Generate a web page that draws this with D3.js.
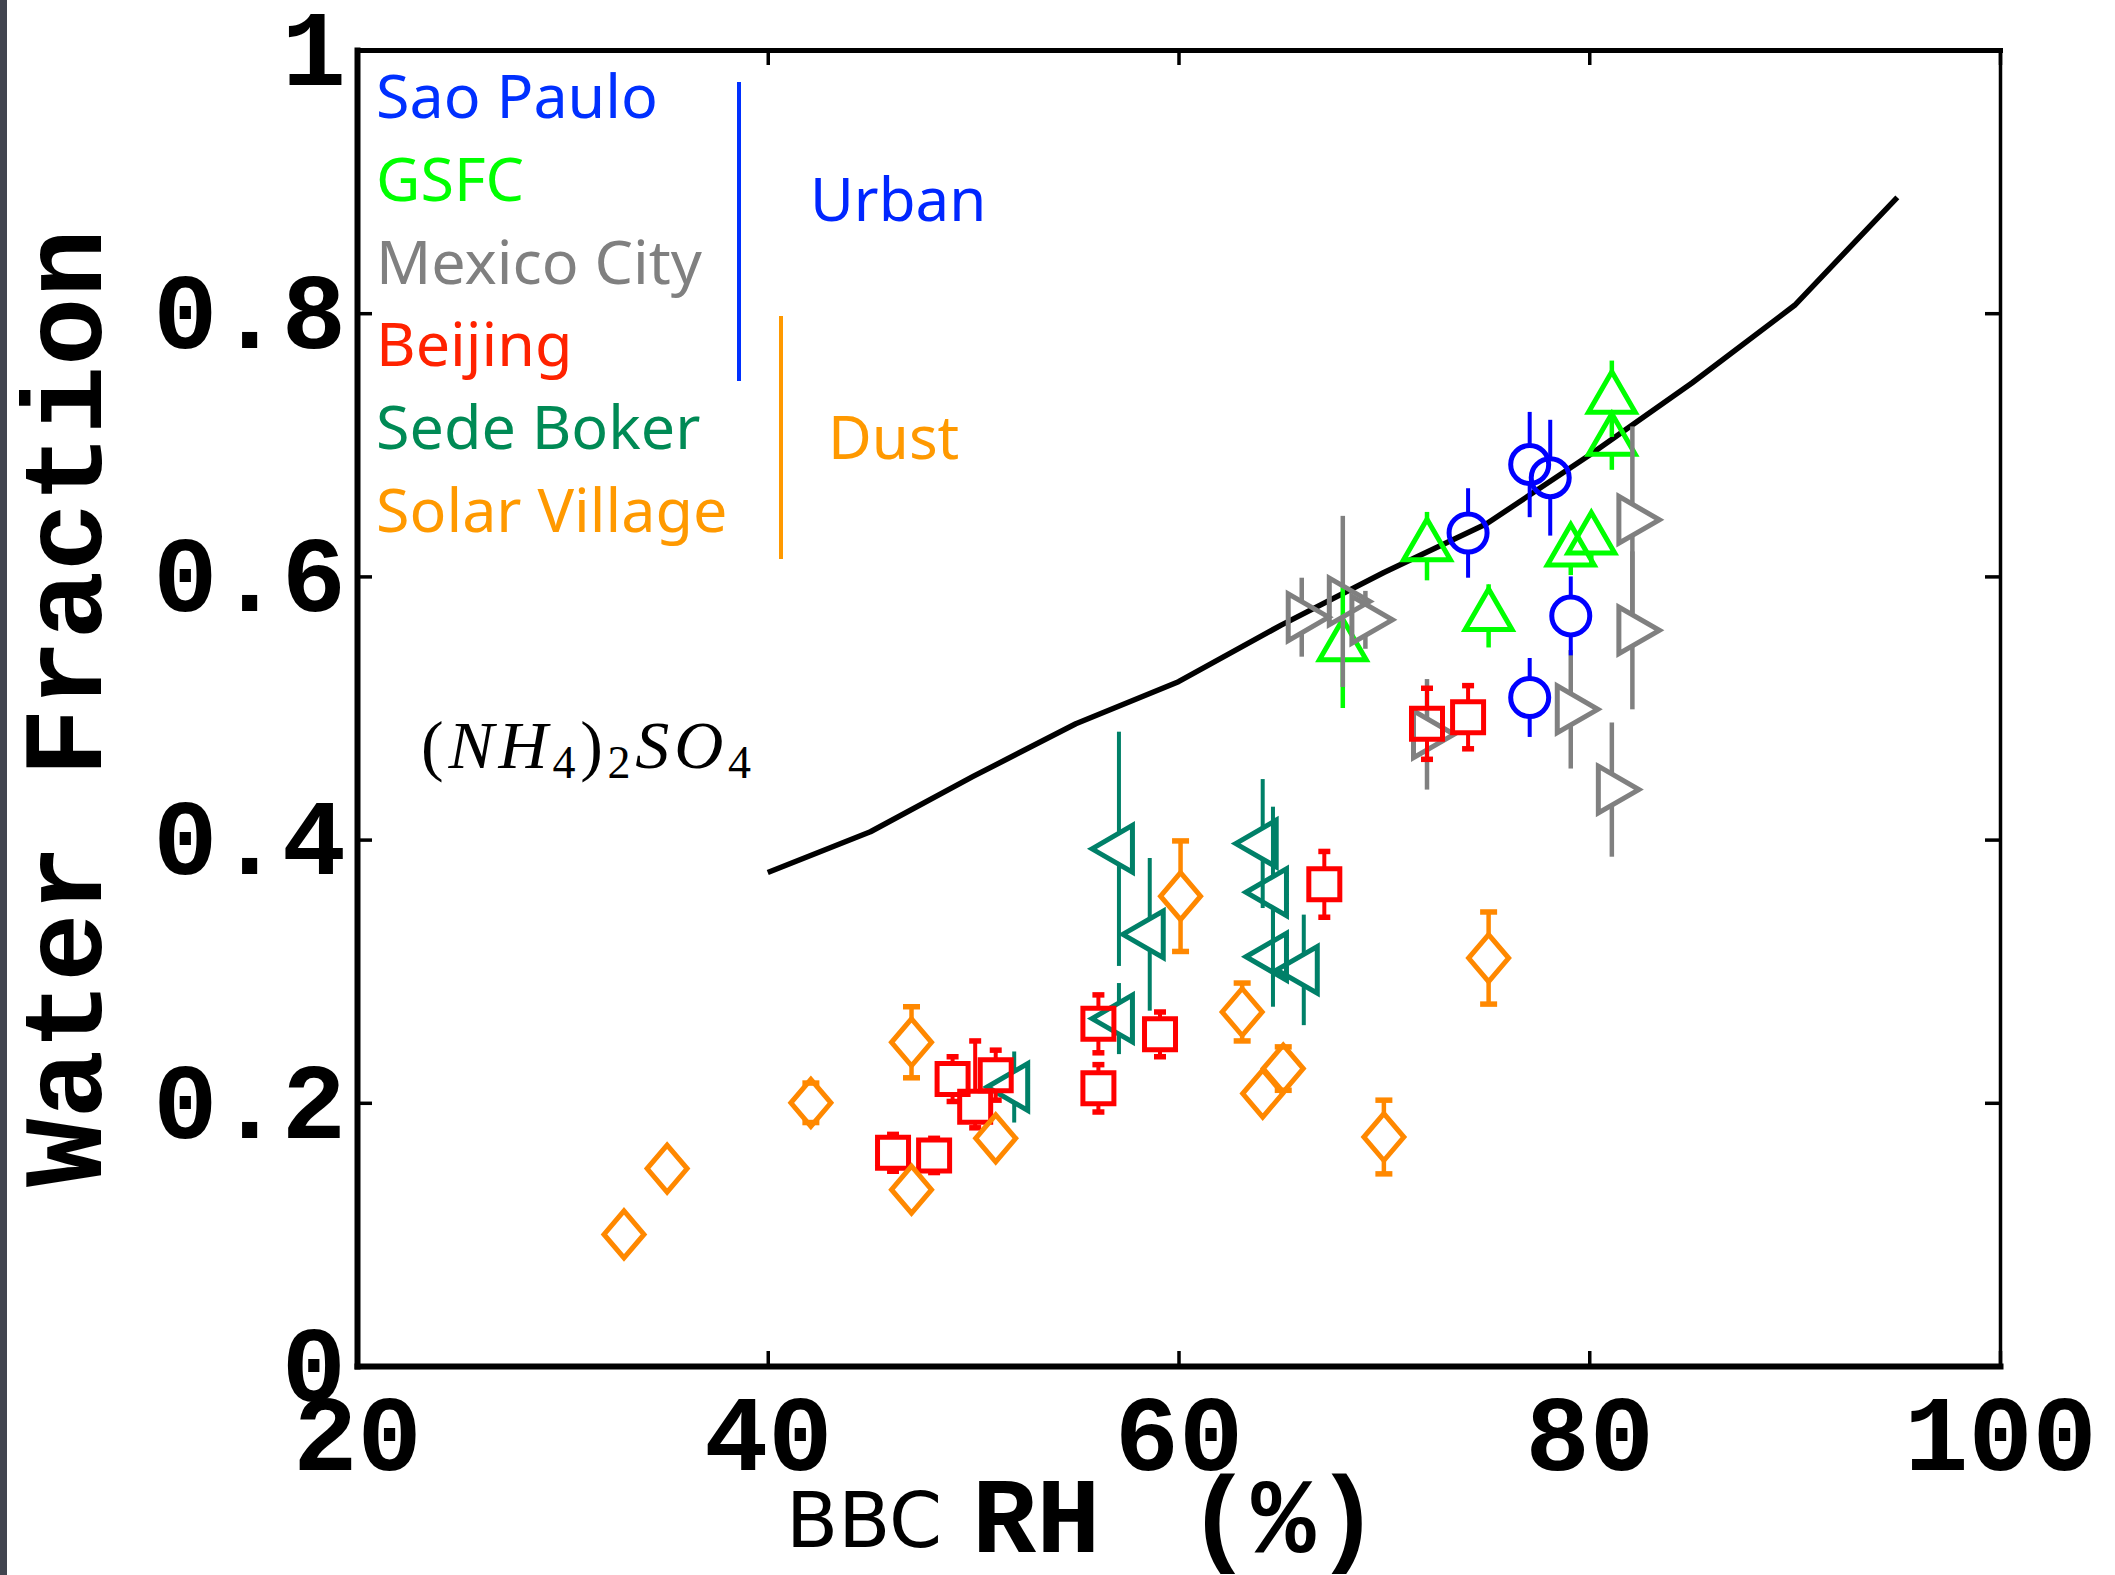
<!DOCTYPE html>
<html>
<head>
<meta charset="utf-8">
<script src="https://cdn.jsdelivr.net/npm/d3@7"></script>
<style>
	body { margin: 0; background: #fff; }
</style>
</head>
<body>
<div class="chart"></div>
<script>
/*---------------------------DATA--------------------------*/

// (NH4)2SO4 reference curve
var curveRH = [40, 45, 50, 55, 60, 65, 70, 75, 80, 85, 90, 95];
var curveWF = [0.375, 0.406, 0.448, 0.488, 0.520, 0.563, 0.603, 0.640, 0.692, 0.747, 0.806, 0.888];

var saoPauloRH  = [74.1, 77.1, 78.1, 79.1, 77.1];
var saoPauloWF  = [0.633, 0.685, 0.675, 0.570, 0.508];
var saoPauloErr = [0.034, 0.040, 0.044, 0.030, 0.030];

var gsfcRH  = [72.1, 75.1, 68.0, 79.1, 80.1, 81.1, 81.1];
var gsfcWF  = [0.623, 0.570, 0.547, 0.619, 0.628, 0.703, 0.735];
var gsfcErr = [0.026, 0.024, 0.047, 0.018, 0.018, 0.022, 0.029];

var mexicoRH  = [66.0, 68.0, 69.1, 72.1, 79.1, 81.1, 82.1, 82.1];
var mexicoWF  = [0.569, 0.581, 0.567, 0.480, 0.499, 0.438, 0.643, 0.559];
var mexicoErr = [0.030, 0.065, 0.022, 0.042, 0.045, 0.051, 0.071, 0.060];

var beijingRH  = [46.1, 48.1, 49.0, 50.1, 51.1, 56.1, 56.1, 59.1, 67.1, 72.1, 74.1];
var beijingWF  = [0.162, 0.160, 0.218, 0.197, 0.221, 0.260, 0.211, 0.252, 0.366, 0.488, 0.493];
var beijingErr = [0.014, 0.013, 0.017, [0.016, 0.050], 0.019, 0.022, 0.018, 0.017, 0.025, 0.027, 0.024];

var sedeBokerRH  = [57.1, 58.6, 57.1, 64.1, 64.6, 64.6, 66.1, 52.0];
var sedeBokerWF  = [0.393, 0.328, 0.264, 0.397, 0.360, 0.311, 0.301, 0.212];
var sedeBokerErr = [0.089, 0.058, 0.027, 0.049, 0.065, 0.038, 0.042, 0.027];

var solarRH  = [33.0, 35.1, 42.1, 47.0, 47.0, 51.1, 60.1, 63.1, 64.1, 65.1, 70.0, 75.1];
var solarWF  = [0.100, 0.150, 0.200, 0.246, 0.134, 0.173, 0.357, 0.269, 0.207, 0.226, 0.174, 0.310];
var solarErr = [0, 0, 0.015, 0.027, 0, 0, 0.042, 0.022, 0, 0.0165, 0.028, 0.035];

var xTicks = [20, 40, 60, 80, 100];
var xTickLabels = ['20', '40', '60', '80', '100'];
var yTicks = [0, 0.2, 0.4, 0.6, 0.8, 1];
var yTickLabels = ['0', '0.2', '0.4', '0.6', '0.8', '1'];

var legendNames = ['Sao Paulo', 'GSFC', 'Mexico City', 'Beijing', 'Sede Boker', 'Solar Village'];

/*---------------------------SETUP--------------------------*/

var w = 2115;
var h = 1575;
var monoFont = "'Courier New', 'Liberation Mono', monospace";
var labelFont = "'Noto Sans', 'DejaVu Sans', sans-serif";

var x = d3.scaleLinear().domain([20, 100]).range([357, 2000]);
var y = d3.scaleLinear().domain([0, 1]).range([1366, 50]);

var svg = d3.select('.chart').append('svg')
	.attr('width', w)
	.attr('height', h)
	.style('display', 'block');

svg.append('rect')
	.attr('width', w)
	.attr('height', h)
	.attr('fill', 'white');

// dark strip on the left edge of the screenshot
svg.append('rect')
	.attr('x', 0)
	.attr('y', 0)
	.attr('width', 7)
	.attr('height', h)
	.attr('fill', '#41444f');

/*---------------------------AXES--------------------------*/

var styleAxis = function(g, lw){
	g.select('.domain').attr('stroke-width', lw).attr('stroke-linecap', 'square');
	g.selectAll('.tick line').attr('stroke-width', 3.5);
	g.selectAll('.tick text')
		.attr('font-family', monoFont)
		.attr('font-weight', 'bold')
		.attr('font-size', 107)
		.attr('fill', 'black');
};

svg.append('g')
	.attr('transform', 'translate(0,' + y(0) + ')')
	.call(d3.axisBottom(x).tickValues(xTicks)
		.tickFormat(function(d, i){ return xTickLabels[i]; })
		.tickSizeInner(-15).tickSizeOuter(0).tickPadding(28))
	.call(styleAxis, 6);

svg.append('g')
	.attr('transform', 'translate(' + x(20) + ',0)')
	.call(d3.axisLeft(y).tickValues(yTicks)
		.tickFormat(function(d, i){ return yTickLabels[i]; })
		.tickSizeInner(-15).tickSizeOuter(0).tickPadding(11))
	.call(styleAxis, 6);

svg.append('g')
	.attr('transform', 'translate(0,' + y(1) + ')')
	.call(d3.axisTop(x).tickValues(xTicks).tickFormat('')
		.tickSizeInner(-15).tickSizeOuter(0))
	.call(styleAxis, 5);

svg.append('g')
	.attr('transform', 'translate(' + x(100) + ',0)')
	.call(d3.axisRight(y).tickValues(yTicks).tickFormat('')
		.tickSizeInner(-15).tickSizeOuter(0))
	.call(styleAxis, 3.5);

svg.append('text')
	.attr('transform', 'translate(101,708) rotate(-90)')
	.attr('text-anchor', 'middle')
	.attr('font-family', monoFont)
	.attr('font-weight', 'bold')
	.attr('font-size', 114)
	.text('Water Fraction');

svg.append('text')
	.attr('x', 786)
	.attr('y', 1547)
	.attr('font-family', "'DejaVu Sans', sans-serif")
	.attr('font-size', 76)
	.text('BBC');

svg.append('text')
	.attr('x', 972)
	.attr('y', 1552)
	.attr('font-family', monoFont)
	.attr('font-weight', 'bold')
	.attr('font-size', 107)
	.text('RH');

svg.append('text')
	.attr('x', 1187)
	.attr('y', 1552)
	.attr('font-family', monoFont)
	.attr('font-weight', 'bold')
	.attr('font-size', 107)
	.text('(%)');

/*---------------------------REFERENCE CURVE--------------------------*/

var curve = d3.line()
	.x(function(d, i){ return x(curveRH[i]); })
	.y(function(d, i){ return y(curveWF[i]); });

svg.append('path')
	.attr('d', curve(curveRH))
	.attr('fill', 'none')
	.attr('stroke', 'black')
	.attr('stroke-width', 5.5)
	.attr('stroke-linejoin', 'round');

var formula = svg.append('text')
	.attr('x', 421)
	.attr('y', 768)
	.attr('font-family', "'Liberation Serif', 'DejaVu Serif', serif")
	.attr('font-style', 'italic')
	.attr('font-size', 68)
	.attr('textLength', 330)
	.attr('lengthAdjust', 'spacing');

formula.append('tspan').attr('font-style', 'normal').text('(');
formula.append('tspan').text('NH');
formula.append('tspan').attr('font-style', 'normal').attr('font-size', 46).attr('dy', 10).text('4');
formula.append('tspan').attr('font-style', 'normal').attr('dy', -10).text(')');
formula.append('tspan').attr('font-style', 'normal').attr('font-size', 46).attr('dy', 10).text('2');
formula.append('tspan').attr('dy', -10).text('SO');
formula.append('tspan').attr('font-style', 'normal').attr('font-size', 46).attr('dy', 10).text('4');

/*---------------------------MARKERS--------------------------*/

var triY = 13.5; // centroid to base of the triangles
var triSize = 3 * Math.sqrt(3) * triY * triY;

var shapes = {
	circle:   { d: d3.symbol(d3.symbolCircle, Math.PI * 19 * 19)(), rot: 0, up: 19, down: 19 },
	square:   { d: d3.symbol(d3.symbolSquare, 31 * 31)(), rot: 0, up: 15.5, down: 15.5 },
	triUp:    { d: d3.symbol(d3.symbolTriangle, triSize)(), rot: 0, up: 2 * triY, down: triY },
	triLeft:  { d: d3.symbol(d3.symbolTriangle, triSize)(), rot: -90, up: 1.155 * triY, down: 1.155 * triY },
	triRight: { d: d3.symbol(d3.symbolTriangle, triSize)(), rot: 90, up: 1.155 * triY, down: 1.155 * triY },
	diamond:  { d: 'M0,-23.5L20,0L0,23.5L-20,0Z', rot: 0, up: 23.5, down: 23.5 }
};

var series = [
	{ rh: gsfcRH, wf: gsfcWF, err: gsfcErr, color: '#00ff00', shape: 'triUp', mw: 5, ew: 4.5, cap: 0 },
	{ rh: mexicoRH, wf: mexicoWF, err: mexicoErr, color: '#808080', shape: 'triRight', mw: 5, ew: 4.5, cap: 0 },
	{ rh: saoPauloRH, wf: saoPauloWF, err: saoPauloErr, color: '#0000ff', shape: 'circle', mw: 5, ew: 4, cap: 0 },
	{ rh: sedeBokerRH, wf: sedeBokerWF, err: sedeBokerErr, color: '#008068', shape: 'triLeft', mw: 5, ew: 4, cap: 0 },
	{ rh: beijingRH, wf: beijingWF, err: beijingErr, color: '#ff0000', shape: 'square', mw: 5, ew: 4, cap: 12, capW: 5.5 },
	{ rh: solarRH, wf: solarWF, err: solarErr, color: '#ff8800', shape: 'diamond', mw: 5, ew: 4.5, cap: 17, capW: 5.5 }
];

series.forEach(function(s){
	var shp = shapes[s.shape];
	var pts = s.rh.map(function(r, i){
		var e = s.err[i];
		var lo = Array.isArray(e) ? e[0] : e;
		var hi = Array.isArray(e) ? e[1] : e;
		return { cx: x(r), cy: y(s.wf[i]), top: y(s.wf[i] + hi), bot: y(s.wf[i] - lo), has: hi > 0 || lo > 0 };
	});

	var g = svg.append('g').attr('stroke', s.color).attr('fill', 'none');

	// error bars stop at the marker edge
	pts.forEach(function(p){
		if (!p.has) return;
		if (p.cy - shp.up > p.top) {
			g.append('line').attr('x1', p.cx).attr('x2', p.cx)
				.attr('y1', p.top).attr('y2', p.cy - shp.up)
				.attr('stroke-width', s.ew);
		}
		if (p.cy + shp.down < p.bot) {
			g.append('line').attr('x1', p.cx).attr('x2', p.cx)
				.attr('y1', p.cy + shp.down).attr('y2', p.bot)
				.attr('stroke-width', s.ew);
		}
		if (s.cap) {
			[p.top, p.bot].forEach(function(yy){
				g.append('line')
					.attr('x1', p.cx - s.cap / 2).attr('x2', p.cx + s.cap / 2)
					.attr('y1', yy).attr('y2', yy)
					.attr('stroke-width', s.capW);
			});
		}
	});

	g.selectAll('.marker').data(pts).enter()
		.append('path')
		.attr('class', 'marker')
		.attr('d', shp.d)
		.attr('transform', function(p){ return 'translate(' + p.cx + ',' + p.cy + ') rotate(' + shp.rot + ')'; })
		.attr('stroke-width', s.mw)
		.attr('stroke-linejoin', 'miter');
});

/*---------------------------LEGEND--------------------------*/

var legendColors = ['#0030ff', '#00ff00', '#808080', '#ff2200', '#008a55', '#ff9900'];

svg.selectAll('.legend').data(legendNames).enter()
	.append('text')
	.attr('class', 'legend')
	.attr('x', 376)
	.attr('y', function(d, i){ return 118 + i * 82.8; })
	.attr('font-family', labelFont)
	.attr('font-size', 61)
	.attr('fill', function(d, i){ return legendColors[i]; })
	.text(function(d){ return d; });

svg.append('line')
	.attr('x1', 739).attr('x2', 739)
	.attr('y1', 82).attr('y2', 381)
	.attr('stroke', '#0030ff')
	.attr('stroke-width', 4);

svg.append('line')
	.attr('x1', 781).attr('x2', 781)
	.attr('y1', 316).attr('y2', 559)
	.attr('stroke', '#ff9900')
	.attr('stroke-width', 4);

svg.append('text')
	.attr('x', 810)
	.attr('y', 221)
	.attr('font-family', labelFont)
	.attr('font-size', 60)
	.attr('fill', '#0026ff')
	.text('Urban');

svg.append('text')
	.attr('x', 828)
	.attr('y', 459)
	.attr('font-family', labelFont)
	.attr('font-size', 60)
	.attr('fill', '#ff9900')
	.text('Dust');
</script>
</body>
</html>
